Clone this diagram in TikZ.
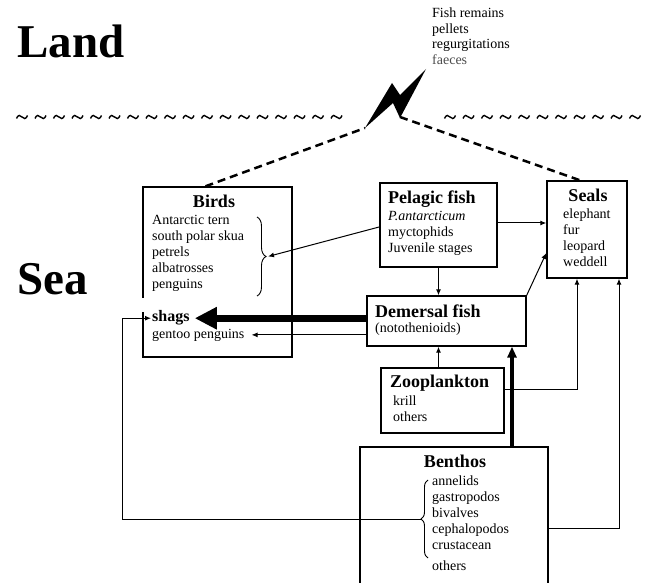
\documentclass[tikz,border=0pt]{standalone}
\usepackage{fontspec}
\setmainfont{Liberation Serif}
\usetikzlibrary{arrows.meta,decorations.pathreplacing,calc}
\begin{document}
\begin{tikzpicture}[x=1pt,y=-1pt,
 box/.style={draw, line width=1.4pt, rectangle, inner sep=0pt},
 txt/.style={font=\fontsize{14}{16}\selectfont, inner sep=0pt, anchor=base west},
 ttl/.style={font=\fontsize{18}{20}\selectfont\bfseries, inner sep=0pt, anchor=base west},
 big/.style={font=\fontsize{47}{50}\selectfont\bfseries, inner sep=0pt, anchor=base west},
 conn/.style={line width=1pt, -{Latex[length=6pt,width=5pt]}},
 dashc/.style={line width=2.5pt, dash pattern=on 8pt off 5pt},
 tilde/.style={line width=1.4pt},
 bracec/.style={decorate, line width=0.9pt},
]
\useasboundingbox (0,0) rectangle (649,583);
\clip (0,0) rectangle (649,583);

% Land / Sea
\node[big] (land) at (17,58) {Land};
\node[big] (sea) at (17,295) {Sea};

% wave line
\foreach \x in {22,40.5,...,340} {
  \draw[tilde] (\x-5.5,118.5) .. controls (\x-4,114.5) and (\x-1.5,115) .. (\x,117)
               .. controls (\x+1.5,119) and (\x+4,119.5) .. (\x+5.5,115.5);
}
\foreach \x in {450,468.5,...,645} {
  \draw[tilde] (\x-5.5,118.5) .. controls (\x-4,114.5) and (\x-1.5,115) .. (\x,117)
               .. controls (\x+1.5,119) and (\x+4,119.5) .. (\x+5.5,115.5);
}

% lightning bolt
\fill (365,128) -- (392,83) -- (400,95) -- (426,69) -- (400,118) -- (393,103) -- cycle;
\coordinate (boltL) at (365,128);
\coordinate (boltR) at (400,117);

% fish remains
\node[txt] (fr1) at (432,18) {Fish remains};
\node[txt] (fr2) at (432,33.5) {pellets};
\node[txt] (fr3) at (432,49) {regurgitations};
\node[txt, text=black!70] (fr4) at (432,65) {faeces};

% boxes
\node[box, minimum width=149pt, minimum height=170pt] (birds) at (217.5,272) {};
\node[box, line width=1.8pt, minimum width=117pt, minimum height=84pt] (pel) at (438.5,225) {};
\node[box, minimum width=80pt, minimum height=97pt] (seals) at (587,229.5) {};
\node[box, minimum width=159pt, minimum height=50pt] (dem) at (446.5,321) {};
\node[box, minimum width=123pt, minimum height=65pt] (zoo) at (442.5,400.5) {};
\node[box, minimum width=188pt, minimum height=150pt] (ben) at (454,522) {};
\draw[white, line width=3pt] (143,298) -- (143,312);

% Birds texts
\node[ttl, anchor=base] (birdsT) at (214,208) {Birds};
\foreach \t [count=\i] in {Antarctic tern, south polar skua, petrels, albatrosses, penguins}
  \node[txt] (bi\i) at (152,{225+16*(\i-1)}) {\t};
\node[txt, font=\fontsize{16}{18}\selectfont\bfseries] (shags) at (152,322) {shags};
\node[txt] (gentoo) at (152,338) {gentoo penguins};
\draw[bracec, decoration={brace, amplitude=9pt}] (257,217) -- (257,296);
\coordinate (btip) at (268,256.5);

% Pelagic texts
\node[ttl] (pelT) at (388,204) {Pelagic fish};
\node[txt] (pe1) at (388,221) {\textit{P.antarcticum}};
\node[txt] (pe2) at (388,237) {myctophids};
\node[txt] (pe3) at (388,253) {Juvenile stages};

% Seals texts
\node[ttl, anchor=base] (sealsT) at (588,202) {Seals};
\foreach \t [count=\i] in {elephant, fur, leopard, weddell}
  \node[txt] (se\i) at (563,{219+16*(\i-1)}) {\t};

% Demersal texts
\node[ttl] (demT) at (375,317) {Demersal fish};
\node[txt] (de1) at (375,333) {(notothenioids)};

% Zooplankton texts
\node[ttl] (zooT) at (390,388) {Zooplankton};
\node[txt] (zo1) at (393,405) {krill};
\node[txt] (zo2) at (393,421) {others};

% Benthos texts
\node[ttl, anchor=base] (benT) at (455,467) {Benthos};
\foreach \t [count=\i] in {annelids, gastropodos, bivalves, cephalopodos, crustacean}
  \node[txt] (be\i) at (432,{485+16.2*(\i-1)}) {\t};
\node[txt] (be6) at (432,570) {others};
\draw[bracec, decoration={brace, amplitude=7pt}] (428,558) -- (428,480);
\coordinate (bentip) at (421,519);
\coordinate (lx) at (122,519);

% dashed connections to land
\draw[dashc] ([xshift=-12pt]birds.north) -- (boltL);
\draw[dashc] (boltR) -- ([xshift=-7pt]seals.north);

% connectors
\draw[conn] ([yshift=-2pt]pel.west) -- (btip);
\draw[conn] ([yshift=2pt]pel.east) -- ([yshift=2pt]pel.east -| seals.west);
\draw[conn] (pel.south) -- (pel.south |- dem.north);
\draw[conn] (dem.north east) -- ([yshift=-23.5pt]seals.west);
\draw[line width=7pt, -{Triangle[length=22pt,width=21pt]}] (dem.west |- shags.east) -- ([xshift=5pt]shags.east);
\draw[conn] (dem.west |- gentoo.east) -- ([xshift=7pt]gentoo.east);
\draw[conn] (zoo.north -| pel.south) -- (dem.south -| pel.south);
\draw[conn] ([yshift=11.5pt]zoo.east) -| ([xshift=-10pt]seals.south);
\draw[line width=3.5pt, -{Triangle[length=11pt,width=9pt]}] ([xshift=58pt]ben.north) -- ([xshift=58pt]ben.north |- dem.south);
\draw[conn] ([yshift=-6pt]ben.east) -| ([xshift=32pt]seals.south);
\draw[conn] (bentip) -- (lx) |- ([xshift=-1pt]shags.west);
\end{tikzpicture}
\end{document}
